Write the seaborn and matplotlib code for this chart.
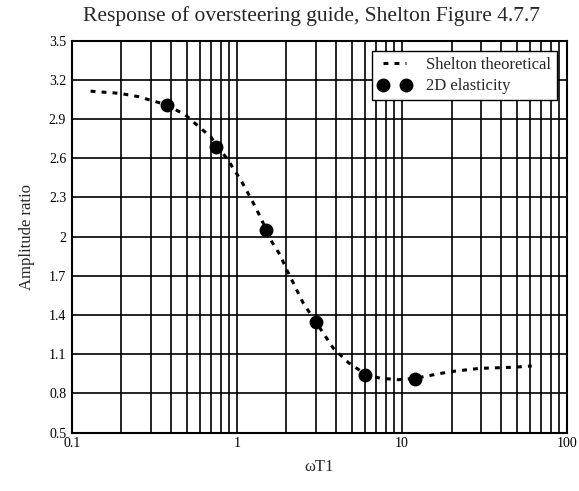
import numpy as np
import pandas as pd
import matplotlib
matplotlib.use("Agg")
import matplotlib.pyplot as plt
import seaborn as sns

# Shelton theoretical curve
theory_x = [0.130, 0.196, 0.259, 0.29, 0.375, 0.443, 0.498, 0.553, 0.622, 0.696, 0.75,
            0.861, 0.927, 1.057, 1.233, 1.37, 1.5, 1.63, 1.83, 2.0, 2.18, 2.53, 2.91, 3.0,
            3.85, 4.75, 5.6, 6.0, 7.39, 9.5, 12.0, 14.2, 19.6, 29.8, 47.5, 61.3]
theory_y = [3.114, 3.097, 3.07, 3.05, 3.01, 2.96, 2.923, 2.872, 2.816, 2.765, 2.70,
            2.607, 2.546, 2.433, 2.28, 2.165, 2.06, 1.961, 1.86, 1.75, 1.655, 1.49, 1.375, 1.35,
            1.145, 1.035, 0.974, 0.945, 0.916, 0.905, 0.915, 0.933, 0.966, 0.992, 1.0, 1.01]

# 2D elasticity points
elas_x = [0.375, 0.75, 1.5, 3.0, 6.0, 12.0]
elas_y = [3.01, 2.69, 2.05, 1.35, 0.94, 0.91]

y_ticks = [0.5, 0.8, 1.1, 1.4, 1.7, 2.0, 2.3, 2.6, 2.9, 3.2, 3.5]
x_ticks = [0.1, 1, 10, 100]

sns.set_style("white")
plt.rcParams['font.family'] = ['Liberation Serif', 'DejaVu Serif']

fig = plt.figure(figsize=(5.79, 4.91), dpi=100)
ax = fig.add_axes([0.124, 0.119, 0.855, 0.798])

df_t = pd.DataFrame({"x": theory_x, "y": theory_y})
df_e = pd.DataFrame({"x": elas_x, "y": elas_y})

sns.lineplot(data=df_t, x="x", y="y", ax=ax, color="black", linewidth=2.2,
             linestyle=(0, (1.6, 2.0)), label="Shelton theoretical", sort=False)
sns.lineplot(data=df_e, x="x", y="y", ax=ax, color="black", linestyle="",
             marker="o", markersize=10, markeredgewidth=0,
             label="2D elasticity", zorder=5, sort=False)

ax.set_xscale("log")
ax.set_xlim(0.1, 100)
ax.set_ylim(0.5, 3.5)
ax.set_xticks(x_ticks)
ax.set_xticklabels(["%g" % v for v in x_ticks])
ax.set_yticks(y_ticks)
ax.set_yticklabels(["%g" % v for v in y_ticks])
ax.xaxis.set_minor_locator(matplotlib.ticker.LogLocator(base=10, subs=np.arange(2, 10)))
ax.xaxis.set_minor_formatter(matplotlib.ticker.NullFormatter())

ax.grid(True, which="both", axis="x", color="black", linewidth=1.2)
ax.grid(True, which="major", axis="y", color="black", linewidth=1.2)
ax.set_axisbelow(True)
ax.tick_params(axis="y", which="both", length=0, labelsize=10, pad=4, colors="black")
ax.tick_params(axis="x", which="both", length=0, labelsize=10, pad=3, colors="black")
for s in ax.spines.values():
    s.set_color("black")
    s.set_linewidth(1.5)

ax.set_xlabel("ωT1", fontsize=12, labelpad=7)
ax.set_ylabel("Amplitude ratio", fontsize=12, labelpad=10)
ax.set_title("Response of oversteering guide, Shelton Figure 4.7.7", fontsize=15.5,
             pad=14, x=0.485)

leg = ax.legend(loc="upper right", numpoints=2, handlelength=2.0, fontsize=12,
                fancybox=False, framealpha=1, edgecolor="black", borderaxespad=0.6,
                handletextpad=0.9, borderpad=0.35, labelspacing=0.35)
leg.get_frame().set_linewidth(1.0)

fig.savefig("out.png", dpi=100)
